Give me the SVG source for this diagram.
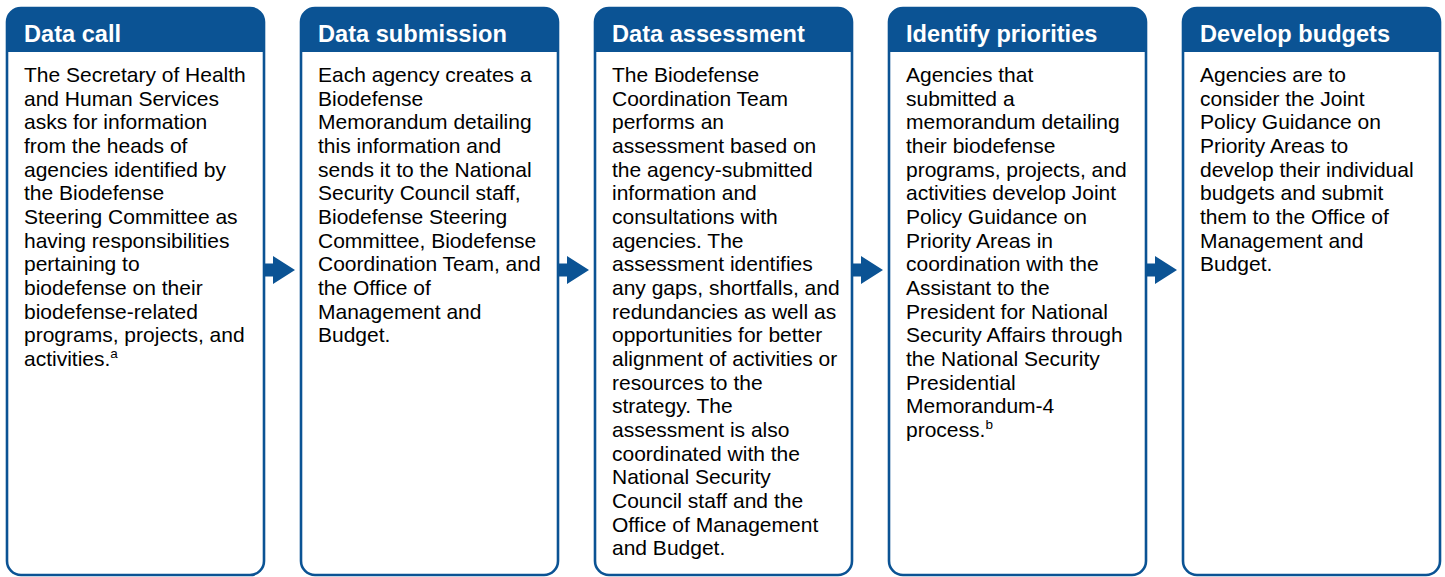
<svg xmlns="http://www.w3.org/2000/svg" width="1445" height="577" viewBox="0 0 1445 577">
<defs>
<style>
.box{fill:#fff;stroke:#0b5394;stroke-width:2.6}
.hdr{fill:#0b5394}
.ht{font-family:"Liberation Sans",Arial,sans-serif;font-weight:bold;font-size:23.6px;fill:#fff}
.bt{font-family:"Liberation Sans",Arial,sans-serif;font-size:21px;fill:#000}
.sup{font-size:13.5px}
.arr{fill:#0b5394}
</style>
<path id="hd" d="M0,52 V22 A14,14 0 0 1 14,8 H243 A14,14 0 0 1 257,22 V52 Z"/>
</defs>
<rect width="1445" height="577" fill="#fff"/>
<g id="connectors">
<polygon class="arr" points="264,263.5 273,263.5 273,256 295,270 273,284 273,276.5 264,276.5"/>
<polygon class="arr" points="558,263.5 567,263.5 567,256 589,270 567,284 567,276.5 558,276.5"/>
<polygon class="arr" points="852,263.5 861,263.5 861,256 883,270 861,284 861,276.5 852,276.5"/>
<polygon class="arr" points="1146,263.5 1155,263.5 1155,256 1177,270 1155,284 1155,276.5 1146,276.5"/>
</g>
<g id="node-data-call" transform="translate(7,0)">
<rect class="box" x="0" y="8" width="257" height="567" rx="14"/>
<use href="#hd" class="hdr"/>
<text class="ht" x="17" y="42">Data call</text>
<text class="bt" x="17" y="82"><tspan x="17" dy="0">The Secretary of Health</tspan><tspan x="17" dy="23.67">and Human Services</tspan><tspan x="17" dy="23.67">asks for information</tspan><tspan x="17" dy="23.67">from the heads of</tspan><tspan x="17" dy="23.67">agencies identified by</tspan><tspan x="17" dy="23.67">the Biodefense</tspan><tspan x="17" dy="23.67">Steering Committee as</tspan><tspan x="17" dy="23.67">having responsibilities</tspan><tspan x="17" dy="23.67">pertaining to</tspan><tspan x="17" dy="23.67">biodefense on their</tspan><tspan x="17" dy="23.67">biodefense-related</tspan><tspan x="17" dy="23.67">programs, projects, and</tspan><tspan x="17" dy="23.67">activities.</tspan><tspan class="sup" dy="-8">a</tspan></text>
</g>
<g id="node-data-submission" transform="translate(301,0)">
<rect class="box" x="0" y="8" width="257" height="567" rx="14"/>
<use href="#hd" class="hdr"/>
<text class="ht" x="17" y="42">Data submission</text>
<text class="bt" x="17" y="82"><tspan x="17" dy="0">Each agency creates a</tspan><tspan x="17" dy="23.67">Biodefense</tspan><tspan x="17" dy="23.67">Memorandum detailing</tspan><tspan x="17" dy="23.67">this information and</tspan><tspan x="17" dy="23.67">sends it to the National</tspan><tspan x="17" dy="23.67">Security Council staff,</tspan><tspan x="17" dy="23.67">Biodefense Steering</tspan><tspan x="17" dy="23.67">Committee, Biodefense</tspan><tspan x="17" dy="23.67">Coordination Team, and</tspan><tspan x="17" dy="23.67">the Office of</tspan><tspan x="17" dy="23.67">Management and</tspan><tspan x="17" dy="23.67">Budget.</tspan></text>
</g>
<g id="node-data-assessment" transform="translate(595,0)">
<rect class="box" x="0" y="8" width="257" height="567" rx="14"/>
<use href="#hd" class="hdr"/>
<text class="ht" x="17" y="42">Data assessment</text>
<text class="bt" x="17" y="82"><tspan x="17" dy="0">The Biodefense</tspan><tspan x="17" dy="23.67">Coordination Team</tspan><tspan x="17" dy="23.67">performs an</tspan><tspan x="17" dy="23.67">assessment based on</tspan><tspan x="17" dy="23.67">the agency-submitted</tspan><tspan x="17" dy="23.67">information and</tspan><tspan x="17" dy="23.67">consultations with</tspan><tspan x="17" dy="23.67">agencies. The</tspan><tspan x="17" dy="23.67">assessment identifies</tspan><tspan x="17" dy="23.67">any gaps, shortfalls, and</tspan><tspan x="17" dy="23.67">redundancies as well as</tspan><tspan x="17" dy="23.67">opportunities for better</tspan><tspan x="17" dy="23.67">alignment of activities or</tspan><tspan x="17" dy="23.67">resources to the</tspan><tspan x="17" dy="23.67">strategy. The</tspan><tspan x="17" dy="23.67">assessment is also</tspan><tspan x="17" dy="23.67">coordinated with the</tspan><tspan x="17" dy="23.67">National Security</tspan><tspan x="17" dy="23.67">Council staff and the</tspan><tspan x="17" dy="23.67">Office of Management</tspan><tspan x="17" dy="23.67">and Budget.</tspan></text>
</g>
<g id="node-identify-priorities" transform="translate(889,0)">
<rect class="box" x="0" y="8" width="257" height="567" rx="14"/>
<use href="#hd" class="hdr"/>
<text class="ht" x="17" y="42">Identify priorities</text>
<text class="bt" x="17" y="82"><tspan x="17" dy="0">Agencies that</tspan><tspan x="17" dy="23.67">submitted a</tspan><tspan x="17" dy="23.67">memorandum detailing</tspan><tspan x="17" dy="23.67">their biodefense</tspan><tspan x="17" dy="23.67">programs, projects, and</tspan><tspan x="17" dy="23.67">activities develop Joint</tspan><tspan x="17" dy="23.67">Policy Guidance on</tspan><tspan x="17" dy="23.67">Priority Areas in</tspan><tspan x="17" dy="23.67">coordination with the</tspan><tspan x="17" dy="23.67">Assistant to the</tspan><tspan x="17" dy="23.67">President for National</tspan><tspan x="17" dy="23.67">Security Affairs through</tspan><tspan x="17" dy="23.67">the National Security</tspan><tspan x="17" dy="23.67">Presidential</tspan><tspan x="17" dy="23.67">Memorandum-4</tspan><tspan x="17" dy="23.67">process.</tspan><tspan class="sup" dy="-8">b</tspan></text>
</g>
<g id="node-develop-budgets" transform="translate(1183,0)">
<rect class="box" x="0" y="8" width="257" height="567" rx="14"/>
<use href="#hd" class="hdr"/>
<text class="ht" x="17" y="42">Develop budgets</text>
<text class="bt" x="17" y="82"><tspan x="17" dy="0">Agencies are to</tspan><tspan x="17" dy="23.67">consider the Joint</tspan><tspan x="17" dy="23.67">Policy Guidance on</tspan><tspan x="17" dy="23.67">Priority Areas to</tspan><tspan x="17" dy="23.67">develop their individual</tspan><tspan x="17" dy="23.67">budgets and submit</tspan><tspan x="17" dy="23.67">them to the Office of</tspan><tspan x="17" dy="23.67">Management and</tspan><tspan x="17" dy="23.67">Budget.</tspan></text>
</g>
</svg>
